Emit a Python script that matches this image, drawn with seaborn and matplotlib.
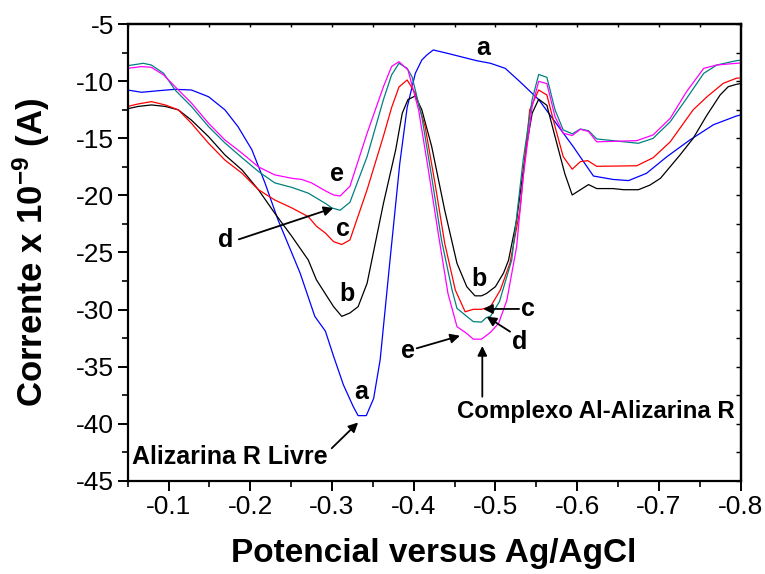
import matplotlib
matplotlib.use("Agg")
import matplotlib.pyplot as plt
import seaborn as sns
import pandas as pd
import numpy as np

# ---------------- data ----------------
pot_a = [-0.050, -0.067, -0.088, -0.108, -0.128, -0.149, -0.169, -0.185, -0.202, -0.218,
         -0.234, -0.251, -0.261, -0.279, -0.292, -0.302, -0.314, -0.326, -0.332, -0.342,
         -0.351, -0.359, -0.371, -0.383, -0.392, -0.402, -0.410, -0.416, -0.424, -0.441,
         -0.477, -0.494, -0.512, -0.530, -0.553, -0.595, -0.620, -0.644, -0.663, -0.685,
         -0.710, -0.738, -0.767, -0.795, -0.800]
cur_a = [-10.76, -10.96, -10.82, -10.70, -10.76, -11.35, -12.5, -13.97, -16.0, -18.9,
         -22.15, -25.07, -26.8, -30.6, -31.9, -34.1, -36.6, -38.5, -39.3, -39.3,
         -37.8, -34.4, -25.7, -17.2, -12.3, -9.3, -8.13, -7.7, -7.25, -7.54,
         -8.19, -8.42, -8.86, -10.03, -11.6, -15.7, -18.3, -18.6, -18.7, -18.06,
         -16.6, -15.14, -13.8, -13.04, -12.95]

pot_b = [-0.050, -0.063, -0.079, -0.096, -0.112, -0.128, -0.149, -0.169, -0.190, -0.210,
         -0.230, -0.251, -0.271, -0.281, -0.302, -0.312, -0.322, -0.332, -0.343, -0.363,
         -0.378, -0.386, -0.393, -0.402, -0.410, -0.422, -0.438, -0.453, -0.465, -0.475,
         -0.483, -0.489, -0.500, -0.510, -0.516, -0.526, -0.538, -0.545, -0.553, -0.563,
         -0.573, -0.585, -0.594, -0.614, -0.624, -0.644, -0.657, -0.675, -0.689, -0.702,
         -0.726, -0.742, -0.759, -0.775, -0.785, -0.795, -0.800]
cur_b = [-12.4, -12.2, -12.07, -12.2, -12.5, -13.4, -14.85, -16.45, -17.77, -19.5,
         -21.56, -23.6, -25.66, -27.4, -29.75, -30.6, -30.3, -29.75, -27.7, -20.7,
         -16.0, -12.8, -11.6, -11.28, -12.5, -15.7, -21.3, -25.95, -28.0, -28.8,
         -28.8, -28.6, -28.0, -26.8, -25.7, -22.15, -15.7, -12.8, -11.57, -12.1,
         -14.85, -18.1, -19.96, -19.05, -19.4, -19.4, -19.5, -19.5, -19.1, -18.5,
         -16.45, -15.0, -12.95, -11.2, -10.47, -10.26, -10.2]

pot_c = [-0.050, -0.063, -0.079, -0.096, -0.112, -0.128, -0.149, -0.169, -0.190, -0.210,
         -0.230, -0.251, -0.271, -0.281, -0.292, -0.302, -0.312, -0.322, -0.343, -0.363,
         -0.373, -0.382, -0.392, -0.402, -0.414, -0.426, -0.438, -0.451, -0.463, -0.473,
         -0.483, -0.494, -0.506, -0.518, -0.530, -0.542, -0.553, -0.563, -0.573, -0.583,
         -0.594, -0.604, -0.613, -0.624, -0.673, -0.693, -0.714, -0.742, -0.759, -0.779,
         -0.795, -0.800]
cur_c = [-12.2, -11.98, -11.78, -12.07, -12.5, -13.68, -15.43, -16.9, -18.06, -19.5,
         -20.4, -21.1, -21.86, -22.7, -23.3, -24.05, -24.3, -23.9, -19.5, -14.8,
         -12.3, -10.5, -9.88, -11.05, -13.97, -18.9, -24.2, -28.3, -30.2, -29.98,
         -29.98, -29.75, -28.3, -25.9, -21.3, -12.5, -10.76, -11.2, -13.97, -16.6,
         -17.7, -17.04, -16.95, -17.45, -17.4, -16.7, -15.3, -12.5, -11.35, -10.17,
         -9.73, -9.7]

pot_d = [-0.050, -0.069, -0.079, -0.094, -0.108, -0.112, -0.128, -0.149, -0.169, -0.190,
         -0.210, -0.230, -0.251, -0.271, -0.292, -0.300, -0.310, -0.322, -0.343, -0.363,
         -0.373, -0.382, -0.392, -0.398, -0.410, -0.422, -0.434, -0.447, -0.453, -0.465,
         -0.473, -0.483, -0.489, -0.494, -0.505, -0.520, -0.534, -0.545, -0.553, -0.563,
         -0.573, -0.583, -0.594, -0.604, -0.614, -0.624, -0.644, -0.675, -0.693, -0.714,
         -0.734, -0.755, -0.771, -0.795, -0.800]
cur_d = [-8.63, -8.42, -8.57, -9.3, -10.76, -11.05, -12.2, -13.97, -15.4, -16.7,
         -17.9, -18.9, -19.3, -19.8, -20.7, -21.1, -21.3, -20.6, -16.6, -11.6,
         -9.44, -8.42, -8.86, -9.6, -13.1, -18.36, -23.9, -28.3, -29.9, -30.6,
         -31.06, -31.1, -30.7, -30.6, -29.3, -25.66, -16.9, -11.6, -9.4, -9.65,
         -12.5, -14.26, -14.6, -14.18, -14.33, -15.05, -15.2, -15.43, -15.0, -13.54,
         -11.5, -9.3, -8.57, -8.19, -8.15]

pot_e = [-0.050, -0.067, -0.079, -0.094, -0.108, -0.128, -0.149, -0.169, -0.190, -0.210,
         -0.230, -0.251, -0.263, -0.275, -0.292, -0.302, -0.310, -0.322, -0.343, -0.363,
         -0.373, -0.382, -0.393, -0.406, -0.418, -0.430, -0.442, -0.453, -0.465, -0.473,
         -0.483, -0.494, -0.504, -0.514, -0.526, -0.534, -0.545, -0.553, -0.563, -0.573,
         -0.583, -0.594, -0.604, -0.614, -0.624, -0.673, -0.693, -0.714, -0.734, -0.755,
         -0.771, -0.795, -0.800]
cur_e = [-8.86, -8.71, -8.77, -9.44, -10.47, -11.9, -13.68, -15.14, -16.3, -17.5,
         -18.2, -18.5, -18.6, -18.9, -19.6, -19.96, -20.05, -19.2, -14.55, -10.47,
         -8.7, -8.28, -9.0, -12.5, -17.77, -23.3, -28.6, -31.5, -32.1, -32.6,
         -32.6, -32.0, -31.2, -29.2, -24.5, -18.4, -12.2, -10.0, -10.2, -13.1,
         -14.55, -14.75, -14.2, -14.4, -15.3, -15.2, -14.7, -13.24, -10.9, -8.86,
         -8.57, -8.42, -8.4]

curve_names = ["a", "b", "c", "d", "e"]
curve_colors = ["#0000ff", "#000000", "#ff0000", "#008080", "#ff00ff"]

x_ticks = [-0.1, -0.2, -0.3, -0.4, -0.5, -0.6, -0.7, -0.8]
y_ticks = [-45, -40, -35, -30, -25, -20, -15, -10, -5]

# ---------------- build table ----------------
pots = [pot_a, pot_b, pot_c, pot_d, pot_e]
curs = [cur_a, cur_b, cur_c, cur_d, cur_e]
frames = []
for name, p, c in zip(curve_names, pots, curs):
    frames.append(pd.DataFrame({"potential": p, "current": c, "curve": name}))
df = pd.concat(frames, ignore_index=True)

# ---------------- style ----------------
sns.set_theme(style="ticks")
plt.rcParams["font.family"] = ["Liberation Sans", "DejaVu Sans"]
plt.rcParams["mathtext.fontset"] = "custom"
plt.rcParams["mathtext.rm"] = "Liberation Sans:bold"
plt.rcParams["mathtext.bf"] = "Liberation Sans:bold"
plt.rcParams["mathtext.it"] = "Liberation Sans:bold"
plt.rcParams["text.color"] = "black"
plt.rcParams["axes.labelcolor"] = "black"
plt.rcParams["xtick.color"] = "black"
plt.rcParams["ytick.color"] = "black"
plt.rcParams["axes.edgecolor"] = "black"

fig = plt.figure(figsize=(7.65, 5.74), dpi=100)
ax = fig.add_axes([0.1669, 0.1626, 0.968 - 0.1669, 0.9577 - 0.1626])

sns.lineplot(data=df, x="potential", y="current", hue="curve",
             palette=dict(zip(curve_names, curve_colors)),
             sort=False, estimator=None, legend=False, linewidth=0.9, ax=ax)

ax.set_xlim(-0.05, -0.8)
ax.set_ylim(-45, -5)
ax.set_xticks(x_ticks)
ax.set_xticklabels([f"{v:.1f}" for v in x_ticks])
ax.set_xticks(np.arange(-0.05, -0.80, -0.1), minor=True)
ax.set_yticks(y_ticks)
ax.set_yticklabels([f"{v:d}" for v in y_ticks])
ax.set_yticks(np.arange(-42.5, -5, 5), minor=True)

for s in ax.spines.values():
    s.set_linewidth(1.6)
    s.set_color("black")
ax.tick_params(axis="both", which="major", direction="out", length=7, width=1.4,
               labelsize=19, pad=3, colors="black")
ax.tick_params(axis="both", which="minor", direction="out", length=4.5, width=1.2,
               colors="black")

# mirrored inner ticks on top / right
secx = ax.secondary_xaxis("top")
secx.set_xticks(x_ticks)
secx.set_xticks(np.arange(-0.05, -0.80, -0.1), minor=True)
secx.tick_params(which="both", direction="in", length=2.5, width=1.0, labeltop=False,
                 colors="black")
secy = ax.secondary_yaxis("right")
secy.set_yticks(y_ticks)
secy.set_yticks(np.arange(-42.5, -5, 5), minor=True)
secy.tick_params(which="both", direction="in", length=3.5, width=1.0, labelright=False,
                 colors="black")
for sa in (secx, secy):
    for s in sa.spines.values():
        s.set_linewidth(1.6)
        s.set_color("black")

ax.set_xlabel("Potencial versus Ag/AgCl", fontsize=24, fontweight="bold", color="black")
ax.set_ylabel("Corrente x 10$^{-9}$ (A)", fontsize=25, fontweight="bold", color="black")
ax.xaxis.set_label_coords(0.5, -0.125)
ax.yaxis.set_label_coords(-0.124, 0.5)
ax.xaxis.label.set_va("top")

# ---------------- annotations ----------------
fs = 18
tk = dict(fontsize=fs, fontweight="bold", color="black", ha="center", va="center")
arr = dict(arrowstyle="-|>", color="black", lw=1.3, mutation_scale=14,
           shrinkA=0, shrinkB=0)

ax.text(-0.4849, -7.1, "a", **tk)
ax.text(-0.3058, -18.1, "e", **tk)
ax.text(-0.313, -22.95, "c", **tk)
ax.text(-0.318, -28.6, "b", **tk)
ax.text(-0.336, -37.2, "a", **tk)
ax.text(-0.480, -27.35, "b", **tk)

ax.text(-0.170, -23.9, "d", **tk)
ax.annotate("", xy=(-0.3017, -21.1), xytext=(-0.186, -23.85), arrowprops=arr)

ax.text(-0.540, -29.95, "c", **tk)
ax.annotate("", xy=(-0.485, -29.95), xytext=(-0.529, -29.95), arrowprops=arr)

ax.text(-0.530, -32.85, "d", **tk)
ax.annotate("", xy=(-0.4894, -30.63), xytext=(-0.518, -31.94), arrowprops=arr)

ax.text(-0.3935, -33.6, "e", **tk)
ax.annotate("", xy=(-0.4567, -32.3), xytext=(-0.4037, -33.4), arrowprops=arr)

ax.text(-0.0549, -42.95, "Alizarina R Livre", fontsize=18, fontweight="bold",
        ha="left", va="center", color="black")
ax.annotate("", xy=(-0.332, -39.9), xytext=(-0.2997, -42.16), arrowprops=arr)

ax.text(-0.6226, -38.95, "Complexo Al-Alizarina R", fontsize=17.3, fontweight="bold",
        ha="center", va="center", color="black")
ax.annotate("", xy=(-0.484, -33.2), xytext=(-0.484, -37.64), arrowprops=arr)

fig.savefig("out.png", dpi=100)
